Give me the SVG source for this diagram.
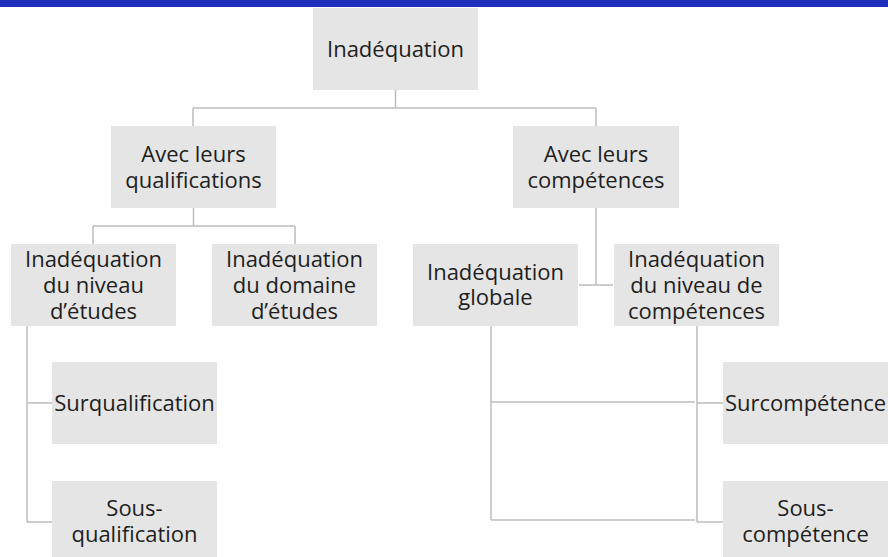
<svg xmlns="http://www.w3.org/2000/svg" width="888" height="557" viewBox="0 0 888 557">
<style>
.box{fill:#e5e5e5}
.t{font-family:"Open Sans","Noto Sans","Liberation Sans",sans-serif;font-size:22px;fill:#1e1e1e;text-anchor:middle}
.c{fill:none;stroke:#bdbdbd;stroke-width:1.5}
</style>
<rect x="0" y="0" width="888" height="7" fill="#1f2dbd"/>
<g id="connectors">
<path class="c" d="M395.5 90V108M193 108H596M193 108V126M596 108V126"/>
<path class="c" d="M193.5 208V226M93 226H295M93 226V244M295 226V244"/>
<path class="c" d="M596 208V285M579 285H613"/>
<path class="c" d="M27 326V522M27 403H52M27 522H52"/>
<path class="c" d="M491 326V520M491 402H695M491 520H695"/>
<path class="c" d="M697 326V522M697 403H723M697 522H723"/>
</g>
<g id="n-top"><rect class="box" x="313" y="8" width="165" height="82"/><text class="t" x="395.5" y="57">Inadéquation</text></g>
<g id="n-qual"><rect class="box" x="111" y="126" width="165" height="82"/><text class="t" x="193.5" y="162">Avec leurs</text><text class="t" x="193.5" y="188">qualifications</text></g>
<g id="n-comp"><rect class="box" x="513" y="126" width="166" height="82"/><text class="t" x="596" y="162">Avec leurs</text><text class="t" x="596" y="188">compétences</text></g>
<g id="n-niveau"><rect class="box" x="11" y="244" width="165" height="82"/><text class="t" x="93.5" y="267">Inadéquation</text><text class="t" x="93.5" y="293">du niveau</text><text class="t" x="93.5" y="319">d’études</text></g>
<g id="n-domaine"><rect class="box" x="212" y="244" width="165" height="82"/><text class="t" x="294.5" y="267">Inadéquation</text><text class="t" x="294.5" y="293">du domaine</text><text class="t" x="294.5" y="319">d’études</text></g>
<g id="n-globale"><rect class="box" x="413" y="244" width="165" height="82"/><text class="t" x="495.5" y="280">Inadéquation</text><text class="t" x="495.5" y="305">globale</text></g>
<g id="n-nivcomp"><rect class="box" x="614" y="244" width="165" height="82"/><text class="t" x="696.5" y="267">Inadéquation</text><text class="t" x="696.5" y="293">du niveau de</text><text class="t" x="696.5" y="319">compétences</text></g>
<g id="n-surqual"><rect class="box" x="52" y="362" width="165" height="82"/><text class="t" x="134.5" y="411">Surqualification</text></g>
<g id="n-sousqual"><rect class="box" x="52" y="481" width="165" height="82"/><text class="t" x="134.5" y="516">Sous-</text><text class="t" x="134.5" y="542">qualification</text></g>
<g id="n-surcomp"><rect class="box" x="723" y="362" width="165" height="82"/><text class="t" x="805.5" y="411">Surcompétence</text></g>
<g id="n-souscomp"><rect class="box" x="723" y="481" width="165" height="82"/><text class="t" x="805.5" y="516">Sous-</text><text class="t" x="805.5" y="542">compétence</text></g>
</svg>
